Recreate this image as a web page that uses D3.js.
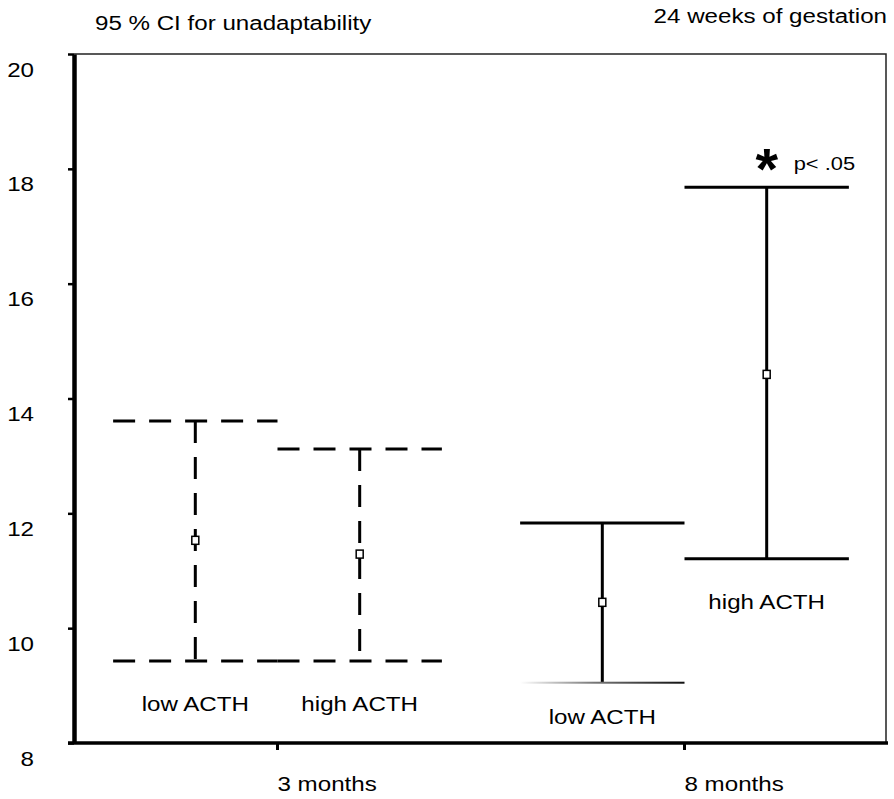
<!DOCTYPE html>
<html>
<head>
<meta charset="utf-8">
<script src="https://cdn.jsdelivr.net/npm/d3@7"></script>
<style>
  body { margin: 0; background: #fff; }
  svg { display: block; }
  text { font-family: "Liberation Sans", Arial, sans-serif; fill: #000; }
</style>
</head>
<body>
<div id="chart"></div>
<script>
// data
var periods = ["3 months", "8 months"];
var groups = ["low ACTH", "high ACTH"];
var lowMean = [11.53, 10.45];
var lowLower = [9.43, 9.05];
var lowUpper = [13.61, 11.83];
var highMean = [11.29, 14.42];
var highLower = [9.43, 11.21];
var highUpper = [13.12, 17.68];
var yTicks = [8, 10, 12, 14, 16, 18, 20];

var W = 894, H = 799;
var plotLeft = 74, plotRight = 888, plotTop = 54, plotBottom = 743;
var SX = 1.15; // text in the reference is stretched horizontally
var FS = 21;

var svg = d3.select("#chart").append("svg")
    .attr("width", W)
    .attr("height", H);

var y = d3.scaleLinear().domain([8, 20]).range([plotBottom, plotTop]);
var x = d3.scaleBand().domain(periods).range([plotLeft, plotRight]);
var sub = d3.scalePoint().domain(groups).range([0, x.bandwidth()]).padding(0.738);
var capHalf = sub.step() / 2;

function label(g, txt, tx, ty, size, anchor) {
    return g.append("text")
        .attr("transform", "translate(" + tx + "," + ty + ") scale(" + SX + ",1)")
        .attr("text-anchor", anchor || "start")
        .style("font-size", size + "px")
        .text(txt);
}

// build rows
var rows = [];
periods.forEach(function(p, i) {
    rows.push({period: p, i: i, group: groups[0], mean: lowMean[i], lo: lowLower[i], hi: lowUpper[i]});
    rows.push({period: p, i: i, group: groups[1], mean: highMean[i], lo: highLower[i], hi: highUpper[i]});
});

// fading gradient for the thin lower cap at 8 months
var defs = svg.append("defs");
var grad = defs.append("linearGradient").attr("id", "fade");
grad.append("stop").attr("offset", "0%").attr("stop-color", "#fff");
grad.append("stop").attr("offset", "45%").attr("stop-color", "#777");
grad.append("stop").attr("offset", "100%").attr("stop-color", "#111");

// frame (top and right)
svg.append("path")
    .attr("d", "M" + plotLeft + "," + plotTop + "H" + (plotRight - 2) + "V" + plotBottom)
    .attr("fill", "none")
    .attr("stroke", "#222")
    .attr("stroke-width", 1.5);

// error bars
var bars = svg.selectAll("g.bar")
    .data(rows)
    .enter()
    .append("g")
    .classed("bar", true)
    .attr("transform", function(d) {return "translate(" + (x(d.period) + sub(d.group)) + ",0)";});

bars.each(function(d) {
    var g = d3.select(this);
    var dash = d.i === 0 ? "22,14" : null;
    g.append("line")
        .attr("x1", 0).attr("x2", 0)
        .attr("y1", y(d.hi)).attr("y2", y(d.lo))
        .attr("stroke", "#000").attr("stroke-width", 3)
        .attr("stroke-dasharray", dash);
    g.append("line")
        .attr("x1", -capHalf).attr("x2", capHalf)
        .attr("y1", y(d.hi)).attr("y2", y(d.hi))
        .attr("stroke", "#000").attr("stroke-width", 3)
        .attr("stroke-dasharray", dash);
    var thin = d.i === 1 && d.group === groups[0];
    if (thin) {
        g.append("rect")
            .attr("x", -capHalf).attr("width", capHalf * 2)
            .attr("y", y(d.lo) - 1).attr("height", 2)
            .attr("fill", "url(#fade)");
    } else {
        g.append("line")
            .attr("x1", -capHalf).attr("x2", capHalf)
            .attr("y1", y(d.lo)).attr("y2", y(d.lo))
            .attr("stroke", "#000").attr("stroke-width", 3)
            .attr("stroke-dasharray", dash);
    }
    g.append("rect")
        .attr("x", -3.5).attr("y", y(d.mean) - 4)
        .attr("width", 7).attr("height", 8)
        .attr("fill", "#fff")
        .attr("stroke", "#000")
        .attr("stroke-width", 1.5);
    label(g, d.group, 0, Math.min(y(d.lo) + 50, 724), FS, "middle");
});

// significance mark
var sig = rows[3];
var sx = x(sig.period) + sub(sig.group);
svg.append("text")
    .attr("x", sx)
    .attr("y", y(sig.hi) + 2)
    .attr("text-anchor", "middle")
    .style("font-size", "58px")
    .style("font-weight", "bold")
    .text("*");
label(svg, "p< .05", sx + 27, y(sig.hi) - 17, 19, "start");

// y axis
var yAxis = svg.append("g")
    .attr("transform", "translate(" + plotLeft + ",0)")
    .call(d3.axisLeft(y).tickValues(yTicks).tickSize(6).tickSizeOuter(0));
yAxis.select(".domain").attr("stroke-width", 4.5).attr("stroke", "#000");
yAxis.selectAll(".tick line").attr("stroke-width", 2.5).attr("stroke", "#000");
yAxis.selectAll(".tick text")
    .attr("x", null).attr("dy", null)
    .attr("text-anchor", "end")
    .attr("transform", "translate(-40,22) scale(" + SX + ",1)")
    .style("font-size", FS + "px")
    .style("font-family", null)
    .attr("fill", "#000");

// x axis
var xAxis = svg.append("g")
    .attr("transform", "translate(0," + plotBottom + ")")
    .call(d3.axisBottom(x).tickSize(7).tickSizeOuter(0));
xAxis.select(".domain").attr("stroke-width", 3.5).attr("stroke", "#000")
    .attr("d", "M" + (plotLeft - 6) + ",0H" + plotRight);
xAxis.selectAll(".tick line").attr("stroke-width", 3).attr("stroke", "#000");
xAxis.selectAll(".tick text")
    .attr("y", null).attr("dy", null)
    .attr("text-anchor", "start")
    .attr("transform", "translate(0,48) scale(" + SX + ",1)")
    .style("font-size", FS + "px")
    .style("font-family", null)
    .attr("fill", "#000");

// titles
label(svg, "95 % CI for unadaptability", 95, 30, FS, "start");
label(svg, "24 weeks of gestation", 887, 23, FS, "end");
</script>
</body>
</html>
